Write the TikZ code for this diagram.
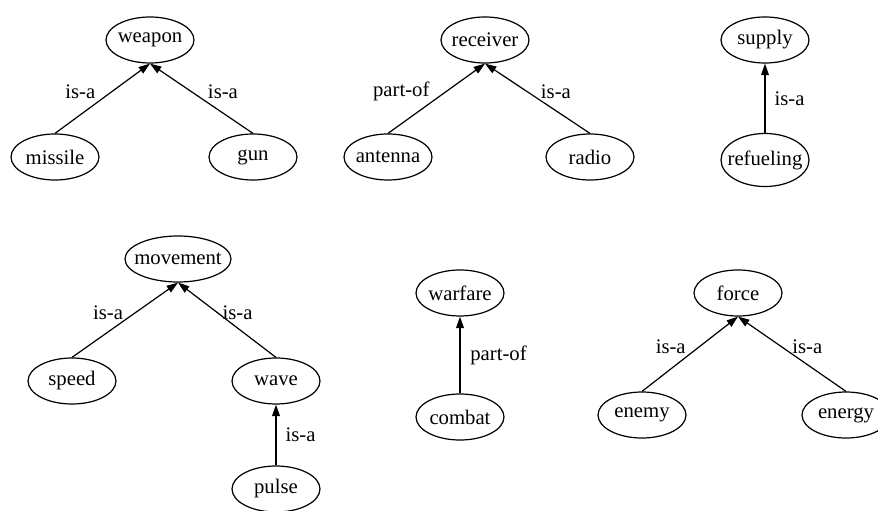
\documentclass[tikz,border=0pt]{standalone}
\usepackage{fontspec}
\setmainfont{Liberation Serif}
\usetikzlibrary{arrows.meta,shapes.geometric}
\def\term#1{\makebox[0pt]{#1}}

\begin{document}
\begin{tikzpicture}[x=0.7pt, y=-0.7pt, font=\fontsize{14.5}{17}\selectfont,
		concept/.style={draw, ellipse, line width=0.85pt, inner sep=0pt, minimum width=61.6pt, minimum height=32.2pt},
		rel/.style={-{Triangle[length=8pt,width=5.4pt]}, line width=0.85pt}]
			%%%%% START %%%%%
			
			\useasboundingbox (0, 0) rectangle (878, 511);
			
			% weapon
			\node[concept] (weapon) at (150, 40) {\term{weapon}};
			\node[concept] (missile) at (55, 157) {\term{missile}};
			\node[concept] (gun) at (253, 157) {\term{gun}};
			\draw[rel] (missile.north) -- node[pos=0.6, left=8pt] {is-a} (weapon.south);
			\draw[rel] (gun.north) -- node[pos=0.6, right=8pt] {is-a} (weapon.south);
			
			% receiver
			\node[concept] (receiver) at (485, 40) {\term{receiver}};
			\node[concept] (antenna) at (388, 157) {\term{antenna}};
			\node[concept] (radio) at (590, 157) {\term{radio}};
			\draw[rel] (antenna.north) -- node[pos=0.6, left=8pt] {part-of} (receiver.south);
			\draw[rel] (radio.north) -- node[pos=0.6, right=6pt] {is-a} (receiver.south);
			
			% supply
			\node[concept] (supply) at (765, 40) {\term{supply}};
			\node[concept, minimum height=37.1pt] (refueling) at (765, 160) {\term{refueling}};
			\draw[rel] (refueling.north) -- node[right=3pt] {is-a} (supply.south);
			
			% movement
			\node[concept, minimum width=74.2pt] (movement) at (178, 259) {\term{movement}};
			\node[concept] (speed) at (72, 381) {\term{speed}};
			\node[concept] (wave) at (276, 381) {\term{wave}};
			\node[concept] (pulse) at (276, 489) {\term{pulse}};
			\draw[rel] (speed.north) -- node[pos=0.6, left=5pt] {is-a} (movement.south);
			\draw[rel] (wave.north) -- node[pos=0.6, right] {is-a} (movement.south);
			\draw[rel] (pulse.north) -- node[right=3pt] {is-a} (wave.south);
			
			% warfare
			\node[concept] (warfare) at (460, 293) {\term{warfare}};
			\node[concept] (combat) at (460, 417) {\term{combat}};
			\draw[rel] (combat.north) -- node[right=3.5pt] {part-of} (warfare.south);
			
			% force
			\node[concept] (force) at (738, 293) {\term{force}};
			\node[concept] (enemy) at (642, 415) {\term{enemy}};
			\node[concept] (energy) at (846, 415) {\term{energy}};
			\draw[rel] (enemy.north) -- node[pos=0.6, left=6pt] {is-a} (force.south);
			\draw[rel] (energy.north) -- node[pos=0.6, right=4pt] {is-a} (force.south);
			
			%%%%% END %%%%%
		\end{tikzpicture}
\end{document}
